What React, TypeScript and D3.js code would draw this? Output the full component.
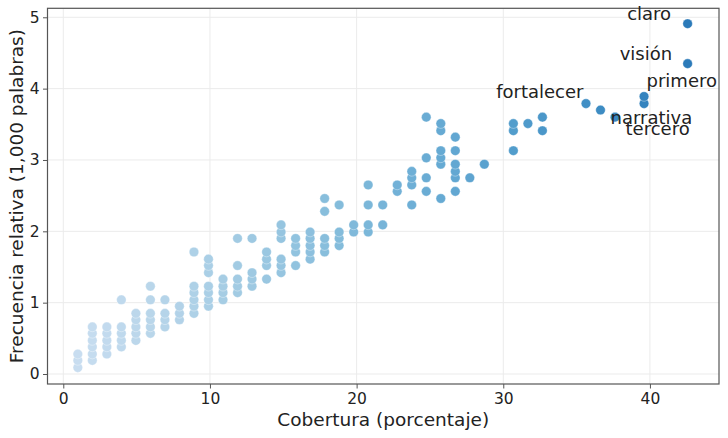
import React, { useEffect, useRef } from 'react';
import * as d3 from 'd3';

// coverage (% of documents) per column, and the relative frequencies found in that column
const coverage = [
  0.99, 1.98, 2.97, 3.96, 4.95, 5.94, 6.93, 7.92, 8.91, 9.9,
  10.89, 11.88, 12.87, 13.86, 14.85, 15.84, 16.83, 17.82, 18.81, 19.8,
  20.79, 21.78, 22.77, 23.76, 24.75, 25.74, 26.73, 27.72, 28.71, 30.69,
  31.68, 32.67, 35.64, 36.63, 37.62, 39.6, 42.57,
];

const frequency = [
  [0.09, 0.19, 0.28],
  [0.19, 0.28, 0.38, 0.47, 0.57, 0.66],
  [0.28, 0.38, 0.47, 0.57, 0.66],
  [0.38, 0.47, 0.57, 0.66, 1.04],
  [0.47, 0.57, 0.66, 0.76, 0.85],
  [0.57, 0.66, 0.76, 0.85, 1.04, 1.23],
  [0.66, 0.76, 0.85, 1.04],
  [0.76, 0.85, 0.95],
  [0.85, 0.95, 1.04, 1.14, 1.23, 1.71],
  [0.95, 1.04, 1.14, 1.23, 1.42, 1.52, 1.61],
  [1.04, 1.14, 1.23, 1.33],
  [1.14, 1.23, 1.33, 1.52, 1.9],
  [1.23, 1.33, 1.42, 1.9],
  [1.33, 1.52, 1.61, 1.71],
  [1.42, 1.52, 1.61, 1.9, 1.99, 2.09],
  [1.52, 1.71, 1.8, 1.9],
  [1.61, 1.71, 1.8, 1.9, 1.99],
  [1.71, 1.8, 1.9, 2.28, 2.46],
  [1.8, 1.9, 1.99, 2.37],
  [1.99, 2.09],
  [1.99, 2.09, 2.37, 2.65],
  [2.09, 2.37],
  [2.56, 2.65],
  [2.37, 2.65, 2.75, 2.84],
  [2.56, 2.75, 3.03, 3.6],
  [2.46, 2.94, 3.03, 3.13, 3.41, 3.51],
  [2.56, 2.75, 2.84, 2.94, 3.13, 3.32],
  [2.75],
  [2.94],
  [3.13, 3.41, 3.51],
  [3.51],
  [3.41, 3.6],
  [3.79],
  [3.7],
  [3.6],
  [3.79, 3.89],
  [4.35, 4.91],
];

const words = ['claro', 'visión', 'primero', 'fortalecer', 'narrativa', 'tercero'];
const wordCoverage = [42.57, 42.57, 39.6, 35.64, 37.62, 39.6];
const wordFrequency = [4.91, 4.35, 3.89, 3.79, 3.6, 3.79];

const xTicks = [0, 10, 20, 30, 40];
const yTicks = [0, 1, 2, 3, 4, 5];

// label placement (pixels from the point), roughly where the labels ended up
const labelDx = [-16.5, -15.5, 2.5, -2.5, -4.5, -18.5];
const labelDy = [-3.5, -3.5, -9, -5.5, 7, 31.5];
const labelAnchor = ['end', 'end', 'start', 'end', 'start', 'start'];

const App: React.FC = () => {
  const ref = useRef<SVGSVGElement>(null);

  useEffect(() => {
    if (!ref.current) return;
    const width = 728, height = 438;
    const left = 47.5, right = 719, top = 8.3, bottom = 384;
    const font = 'DejaVu Sans, sans-serif';

    const svg = d3.select(ref.current);
    svg.selectAll('*').remove();
    svg.attr('width', width).attr('height', height);

    const x = d3.scaleLinear().domain([-1.077, 44.71]).range([left, right]);
    const y = d3.scaleLinear().domain([-0.14, 5.126]).range([bottom, top]);
    const color = d3.scaleLinear().domain([0, 43]).range([0.22, 0.72]);

    svg.append('rect')
      .attr('width', width).attr('height', height).attr('fill', '#fff');

    // grid
    svg.append('g').selectAll('line').data(xTicks).enter().append('line')
      .attr('x1', d => x(d)).attr('x2', d => x(d))
      .attr('y1', top).attr('y2', bottom)
      .attr('stroke', '#ebebeb').attr('stroke-width', 1);
    svg.append('g').selectAll('line').data(yTicks).enter().append('line')
      .attr('y1', d => y(d)).attr('y2', d => y(d))
      .attr('x1', left).attr('x2', right)
      .attr('stroke', '#ebebeb').attr('stroke-width', 1);

    const points = coverage.flatMap((c, i) => frequency[i].map(f => ({ c, f })));

    svg.append('g').selectAll('circle').data(points).enter().append('circle')
      .attr('cx', d => x(d.c))
      .attr('cy', d => y(d.f))
      .attr('r', 4.8)
      .attr('fill', d => d3.interpolateBlues(color(d.c)))
      .attr('stroke', '#fff')
      .attr('stroke-width', 0.5)
      .attr('stroke-opacity', 0.7);

    // frame
    svg.append('rect')
      .attr('x', left).attr('y', top)
      .attr('width', right - left).attr('height', bottom - top)
      .attr('fill', 'none').attr('stroke', '#555').attr('stroke-width', 1.2);

    // x axis
    const xAxis = svg.append('g')
      .attr('transform', `translate(0,${bottom})`)
      .call(d3.axisBottom(x).tickValues(xTicks).tickSize(4.5).tickPadding(4).tickFormat(d3.format('d')));
    xAxis.select('.domain').remove();
    xAxis.selectAll('line').attr('stroke', '#555');
    xAxis.selectAll('text')
      .attr('font-family', font).attr('font-size', 15.5).attr('fill', '#222');

    // y axis
    const yAxis = svg.append('g')
      .attr('transform', `translate(${left},0)`)
      .call(d3.axisLeft(y).tickValues(yTicks).tickSize(4.5).tickPadding(3.5).tickFormat(d3.format('d')));
    yAxis.select('.domain').remove();
    yAxis.selectAll('line').attr('stroke', '#555');
    yAxis.selectAll('text')
      .attr('font-family', font).attr('font-size', 15.5).attr('fill', '#222');

    svg.append('text')
      .attr('x', (left + right) / 2).attr('y', 426)
      .attr('text-anchor', 'middle')
      .attr('font-family', font).attr('font-size', 18.5).attr('fill', '#222')
      .text('Cobertura (porcentaje)');

    svg.append('text')
      .attr('transform', `translate(22.5,${(top + bottom) / 2}) rotate(-90)`)
      .attr('text-anchor', 'middle')
      .attr('font-family', font).attr('font-size', 18.5).attr('fill', '#222')
      .text('Frecuencia relativa (1,000 palabras)');

    svg.append('g').selectAll('text').data(words).enter().append('text')
      .attr('x', (d, i) => x(wordCoverage[i]) + labelDx[i])
      .attr('y', (d, i) => y(wordFrequency[i]) + labelDy[i])
      .attr('text-anchor', (d, i) => labelAnchor[i])
      .attr('font-family', font).attr('font-size', 18).attr('fill', '#222')
      .text(d => d);
  }, []);

  return <svg ref={ref} style={{ position: 'absolute', left: 0, top: 0, display: 'block' }} />;
};

export default App;
